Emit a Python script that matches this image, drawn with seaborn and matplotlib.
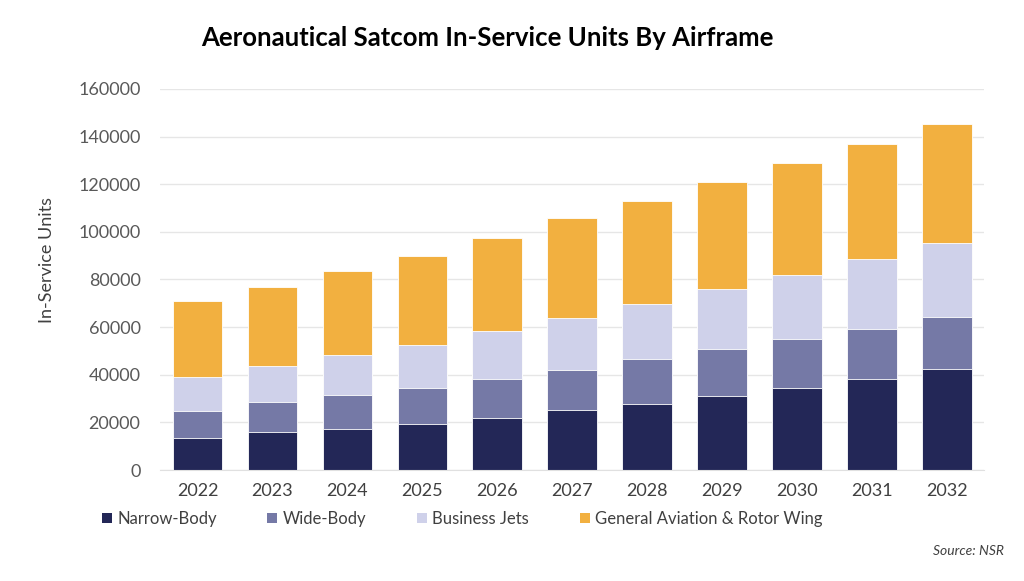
import numpy as np
import pandas as pd
from matplotlib import pyplot as plt
from matplotlib.patches import Patch
import seaborn as sns

years = ['2022', '2023', '2024', '2025', '2026', '2027', '2028', '2029', '2030', '2031', '2032']
narrow_body = [13600, 16000, 17400, 19400, 21900, 25000, 27800, 31200, 34600, 38300, 42300]
wide_body = [11300, 12600, 14200, 15200, 16400, 17200, 18600, 19700, 20400, 21000, 21900]
business_jets = [14100, 14900, 16600, 17700, 19900, 21600, 23200, 25200, 27000, 29400, 31000]
ga_rotor = [31800, 33300, 35200, 37500, 39300, 41800, 43500, 44800, 46700, 48200, 50000]

series = ['Narrow-Body', 'Wide-Body', 'Business Jets', 'General Aviation & Rotor Wing']
colors = ['#232757', '#7579a6', '#cfd1ea', '#f2b040']

sns.set_style('white')
plt.rcParams['font.family'] = ['Lato', 'DejaVu Sans']

df = pd.DataFrame({'year': years,
                   'Narrow-Body': narrow_body,
                   'Wide-Body': wide_body,
                   'Business Jets': business_jets,
                   'General Aviation & Rotor Wing': ga_rotor})
cum = df[series].cumsum(axis=1)

fig = plt.figure(figsize=(10.24, 5.81), dpi=100)
ax = fig.add_axes([0.15625, 0.191, 0.805, 0.656])

# draw cumulative totals from the top layer down so each one covers the rest
for name, col in reversed(list(zip(series, colors))):
    sns.barplot(x=df['year'], y=cum[name], color=col, width=0.66,
                edgecolor='white', linewidth=0.6, saturation=1, ax=ax)

ax.set_ylim(0, 160000)
ax.set_xlim(-0.5, 10.5)
ax.set_yticks(np.arange(0, 160001, 20000))
ax.yaxis.grid(True, color='#e6e6e6', linewidth=1)
ax.set_axisbelow(True)
for s in ['top', 'right', 'left']:
    ax.spines[s].set_visible(False)
ax.spines['bottom'].set_color('#e0e0e0')
ax.tick_params(axis='y', length=0, pad=14, labelsize=13, labelcolor='#595959')
ax.tick_params(axis='x', length=0, pad=9, labelsize=13, labelcolor='#404040')
ax.set_xlabel('')
ax.set_ylabel('In-Service Units', fontsize=13, color='#404040')
ax.yaxis.set_label_coords(-0.127, 0.55)

fig.text(0.476, 0.934, 'Aeronautical Satcom In-Service Units By Airframe',
         ha='center', va='center', fontsize=18.5, fontweight='bold', color='black')

handles = [Patch(facecolor=c, edgecolor='none') for c in colors]
fig.legend(handles, series, loc='center left', bbox_to_anchor=(0.085, 0.107),
           ncol=4, frameon=False, fontsize=12, handlelength=0.6, handleheight=0.6,
           handletextpad=0.3, columnspacing=3.05, labelcolor='#404040')

fig.text(0.98, 0.052, 'Source: NSR', ha='right', va='center', fontsize=10,
         style='italic', color='#404040')

plt.savefig('out.png', dpi=100)
